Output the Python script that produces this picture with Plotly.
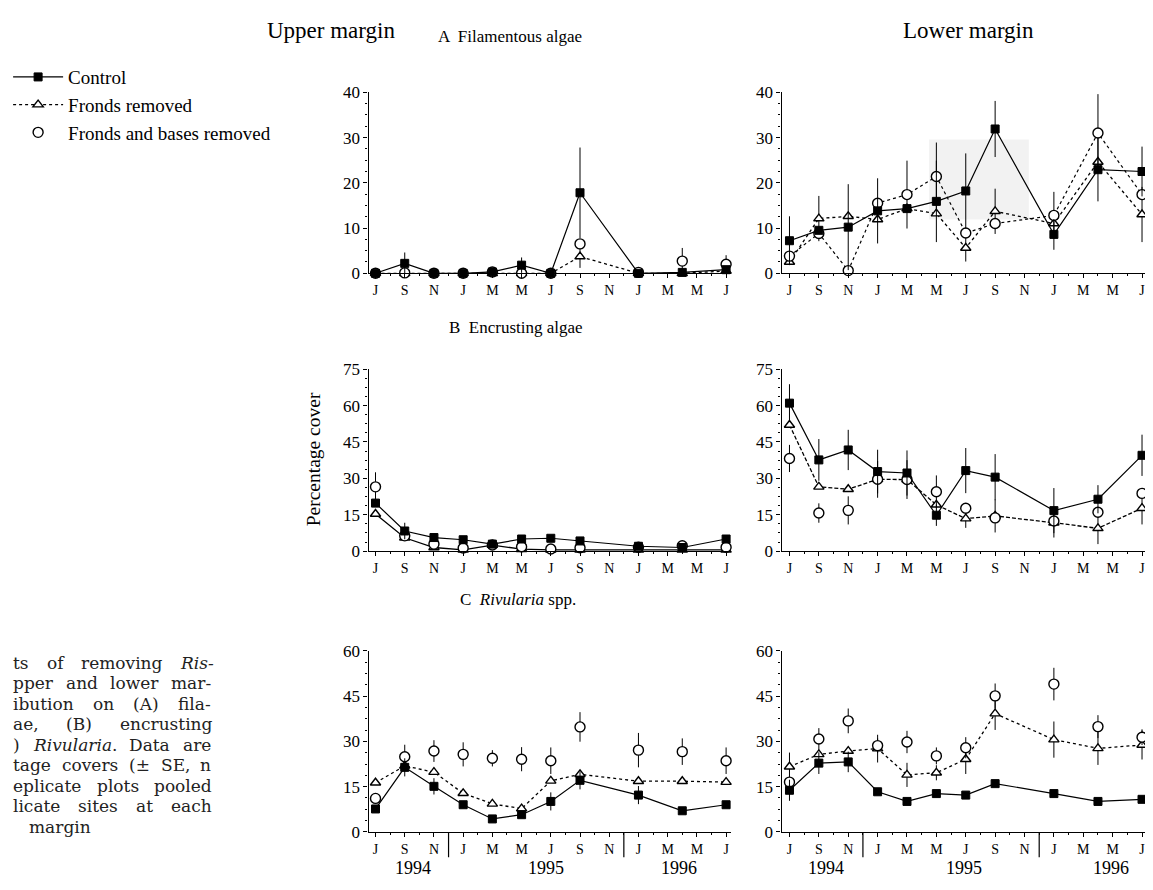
import re
import plotly.graph_objects as go

W, H = 1153, 890            # browser window
OX, OY = 8, 8               # default page margin of the html body
FW, FH = W - 2 * OX, H - 2 * OY   # figure size so that the page does not overflow

# ---------------- data ----------------
months = [0, 2, 4, 6, 8, 10, 12, 14, 18, 21, 24]   # months since July 1994
tick_vals = list(range(0, 25, 2))
tick_text = ["J", "S", "N", "J", "M", "M", "J", "S", "N", "J", "M", "M", "J"]
years = ["1994", "1995", "1996"]

# A  Filamentous algae - upper margin
a_up_ctrl = [0.0, 2.2, 0.0, 0.0, 0.3, 1.8, 0.0, 17.8, 0.0, 0.2, 0.8]
a_up_ctrl_se = [0, 2.4, 0, 0, 0, 1.7, 0, 10.0, 0, 0, 0.5]
a_up_fr = [0.0, 0.0, 0.0, 0.0, 0.0, 0.0, 0.0, 3.7, 0.0, 0.0, 0.5]
a_up_fr_se = [0, 0, 0, 0, 0, 0, 0, 2.5, 0, 0, 0]
a_up_fb = [0.0, 0.1, 0.0, 0.0, 0.3, 0.0, 0.0, 6.5, 0.2, 2.7, 2.0]
a_up_fb_se = [0, 0, 0, 0, 0, 0, 0, 0, 0, 2.9, 2.0]

# A  Filamentous algae - lower margin
a_lo_ctrl = [7.2, 9.5, 10.2, 13.8, 14.3, 15.9, 18.2, 31.9, 8.6, 22.9, 22.5]
a_lo_ctrl_se = [5.4, 0, 9.5, 7.2, 0, 9.0, 8.3, 6.2, 3.4, 7.0, 5.5]
a_lo_fr = [2.5, 12.1, 12.6, 11.9, 14.3, 13.2, 5.6, 13.7, 11.0, 24.6, 13.0]
a_lo_fr_se = [0, 5.0, 0, 0, 0, 0, 3.0, 5.0, 0, 0, 6.1]
a_lo_fb = [3.8, 8.8, 0.6, 15.5, 17.4, 21.4, 8.9, 11.0, 12.8, 31.0, 17.4]
a_lo_fb_se = [0, 0, 0, 0, 7.5, 7.5, 0, 0, 5.2, 8.6, 0]

# B  Encrusting algae - upper margin
b_up_ctrl = [19.8, 8.3, 5.6, 4.7, 2.9, 5.0, 5.3, 4.2, 2.0, 1.5, 5.0]
b_up_ctrl_se = [0, 3.4, 0, 0, 0, 0, 0, 0, 0, 0, 0]
b_up_fr = [15.3, 5.5, 1.5, 0.5, 2.5, 0.8, 0.5, 0.5, 0.5, 0.5, 0.5]
b_up_fr_se = [0, 0, 0, 0, 0, 0, 0, 0, 0, 0, 0]
b_up_fb = [26.5, 6.3, 2.9, 1.3, 2.5, 1.8, 0.9, 1.4, 1.6, 2.2, 1.6]
b_up_fb_se = [6.0, 0, 0, 0, 0, 0, 0, 0, 0, 0, 0]

# B  Encrusting algae - lower margin
b_lo_ctrl = [61.0, 37.6, 41.7, 32.8, 32.2, 14.8, 33.2, 30.5, 16.7, 21.4, 39.5]
b_lo_ctrl_se = [7.8, 8.6, 8.3, 9.0, 9.3, 4.4, 9.3, 9.5, 9.3, 5.8, 8.5]
b_lo_fr = [52.0, 26.5, 25.5, 29.6, 29.5, 19.1, 13.4, 14.5, 11.7, 9.4, 17.7]
b_lo_fr_se = [0, 0, 0, 7.6, 8.0, 0, 3.8, 6.8, 6.1, 6.5, 6.7]
b_lo_fb = [38.2, 15.7, 16.8, 29.6, 29.5, 24.5, 17.7, 13.7, 12.4, 16.0, 23.8]
b_lo_fb_se = [5.6, 4.0, 5.8, 0, 0, 6.7, 0, 0, 0, 0, 0]

# C  Rivularia spp. - upper margin
c_up_ctrl = [7.6, 21.4, 15.1, 9.0, 4.3, 5.7, 10.1, 17.1, 12.2, 7.0, 9.0]
c_up_ctrl_se = [0, 3.0, 2.7, 0, 0, 0, 3.0, 3.0, 3.0, 0, 0]
c_up_fr = [16.3, 21.9, 19.8, 12.8, 9.3, 7.7, 16.9, 19.1, 16.8, 16.8, 16.5]
c_up_fr_se = [0, 0, 0, 0, 0, 0, 0, 0, 0, 0, 0]
c_up_fb = [11.1, 24.9, 26.8, 25.7, 24.4, 24.1, 23.6, 34.8, 27.1, 26.6, 23.6]
c_up_fb_se = [0, 4.0, 3.6, 4.0, 2.7, 4.0, 4.4, 4.9, 5.7, 4.4, 4.4]

# C  Rivularia spp. - lower margin
c_lo_ctrl = [13.8, 22.8, 23.2, 13.3, 10.1, 12.7, 12.2, 16.0, 12.7, 10.1, 10.8]
c_lo_ctrl_se = [3.5, 3.6, 3.4, 0, 0, 0, 0, 0, 0, 0, 0]
c_lo_fr = [21.6, 25.7, 26.8, 27.6, 18.9, 19.6, 24.1, 39.2, 30.6, 27.7, 28.8]
c_lo_fr_se = [4.7, 0, 0, 4.6, 4.0, 2.5, 4.9, 5.4, 6.0, 5.5, 4.8]
c_lo_fb = [16.5, 30.8, 36.8, 28.6, 29.8, 25.2, 27.9, 45.1, 49.0, 34.9, 31.4]
c_lo_fb_se = [0, 3.6, 4.1, 2.4, 3.7, 2.8, 3.5, 4.1, 5.4, 3.8, 2.6]

series_names = ["Control", "Fronds removed", "Fronds and bases removed"]

caption_lines = [
    "ts of removing <i>Ris-</i>",
    "pper and lower mar-",
    "ibution on (A) fila-",
    "ae, (B) encrusting",
    ") <i>Rivularia</i>. Data are",
    "tage covers (± SE, n",
    "eplicate plots pooled",
    "licate sites at each",
]
caption_last = "margin"

# ---------------- geometry helpers (window pixels -> paper) ----------------
def px(x):
    return (x - OX) / FW


def py(y):
    return 1 - (y - OY) / FH


SERIF = "Liberation Serif"
XMAX = OX + FW
col_px = [(361, 727, 368, 722), (778, min(1148, XMAX), 786, 1142)]  # axis start, end, first tick, last tick
row_px = [(85, 270), (368, 554), (656, 841)]                        # top, bottom
yranges = [40, 75, 60]
ydticks = [10, 15, 15]

panels = [
    dict(ctrl=a_up_ctrl, cse=a_up_ctrl_se, fr=a_up_fr, fse=a_up_fr_se, fb=a_up_fb, bse=a_up_fb_se,
         fr_dash="dot", fb_line=False),
    dict(ctrl=a_lo_ctrl, cse=a_lo_ctrl_se, fr=a_lo_fr, fse=a_lo_fr_se, fb=a_lo_fb, bse=a_lo_fb_se,
         fr_dash="dot", fb_line=True),
    dict(ctrl=b_up_ctrl, cse=b_up_ctrl_se, fr=b_up_fr, fse=b_up_fr_se, fb=b_up_fb, bse=b_up_fb_se,
         fr_dash="solid", fb_line=False),
    dict(ctrl=b_lo_ctrl, cse=b_lo_ctrl_se, fr=b_lo_fr, fse=b_lo_fr_se, fb=b_lo_fb, bse=b_lo_fb_se,
         fr_dash="4px,2px", fb_line=False),
    dict(ctrl=c_up_ctrl, cse=c_up_ctrl_se, fr=c_up_fr, fse=c_up_fr_se, fb=c_up_fb, bse=c_up_fb_se,
         fr_dash="dot", fb_line=False),
    dict(ctrl=c_lo_ctrl, cse=c_lo_ctrl_se, fr=c_lo_fr, fse=c_lo_fr_se, fb=c_lo_fb, bse=c_lo_fb_se,
         fr_dash="dot", fb_line=False),
]

fig = go.Figure()
layout = {}


def err(se):
    return dict(type="data", array=se, visible=True, thickness=1, width=0, color="black")


for i, p in enumerate(panels):
    r, c = divmod(i, 2)
    sfx = "" if i == 0 else str(i + 1)
    xa, ya = "x" + sfx, "y" + sfx
    legend_show = (i == 4)
    fig.add_trace(go.Scatter(
        x=months, y=p["fr"], xaxis=xa, yaxis=ya, name=series_names[1],
        mode="lines+markers", cliponaxis=False, showlegend=legend_show, legendrank=2,
        line=dict(color="black", width=1.3, dash=p["fr_dash"]),
        marker=dict(symbol="triangle-up", size=9, color="white", line=dict(color="black", width=1.4)),
        error_y=err(p["fse"])))
    fig.add_trace(go.Scatter(
        x=months, y=p["fb"], xaxis=xa, yaxis=ya, name=series_names[2],
        mode="lines+markers" if p["fb_line"] else "markers", cliponaxis=False,
        showlegend=legend_show, legendrank=3,
        line=dict(color="black", width=1.2, dash="dot"),
        marker=dict(symbol="circle", size=10, color="white", line=dict(color="black", width=1.4)),
        error_y=err(p["bse"])))
    fig.add_trace(go.Scatter(
        x=months, y=p["ctrl"], xaxis=xa, yaxis=ya, name=series_names[0],
        mode="lines+markers", cliponaxis=False, showlegend=legend_show, legendrank=1,
        line=dict(color="black", width=1.2),
        marker=dict(symbol="square", size=8, color="black", line=dict(color="black", width=1)),
        error_y=err(p["cse"])))

    x0, x1, t0, t1 = col_px[c]
    sc = (t1 - t0) / 24.0
    top, bot = row_px[r]
    layout["xaxis" + sfx] = dict(
        domain=[px(x0), min(px(x1), 1.0)], anchor=ya, range=[-(t0 - x0) / sc, 24 + (x1 - t1) / sc],
        tickmode="array", tickvals=tick_vals, ticktext=tick_text, ticklabeloverflow="allow",
        showline=True, linecolor="black", linewidth=1.3, ticks="outside", ticklen=4,
        tickcolor="black", showgrid=False, zeroline=False,
        tickfont=dict(family=SERIF, size=14, color="black"),
        minor=dict(dtick=1, tick0=0, ticks="outside", ticklen=2, tickcolor="black"))
    layout["yaxis" + sfx] = dict(
        domain=[py(bot), py(top)], anchor=xa, range=[0, yranges[r]],
        dtick=ydticks[r], tick0=0, showline=True, linecolor="black", linewidth=1.3,
        ticks="outside", ticklen=4, tickcolor="black", showgrid=False, zeroline=False,
        tickfont=dict(family=SERIF, size=17, color="black"),
        minor=dict(dtick=ydticks[r] / 4, ticks="outside", ticklen=2, tickcolor="black"))

shapes = []
# faint scan shading in panel A lower margin
shapes.append(dict(type="rect", xref="x2", yref="y2", x0=9.5, x1=16.3, y0=11.9, y1=29.6,
                   fillcolor="rgba(0,0,0,0.05)", line=dict(width=0), layer="below"))
# year separators
for ax in ["x5", "x6"]:
    for m in [5, 17]:
        shapes.append(dict(type="line", xref=ax, yref="paper", x0=m, x1=m,
                           y0=py(842), y1=py(867), line=dict(color="black", width=1.2)))

ann = []


def txt(x, y, s, size, family=SERIF, xanchor="center", color="black", **kw):
    d = dict(x=px(x), y=py(y), xref="paper", yref="paper", text=s, showarrow=False,
             xanchor=xanchor, yanchor="middle",
             font=dict(family=family, size=size, color=color))
    d.update(kw)
    ann.append(d)


txt(323, 22, "Upper margin", 23)
txt(967, 22, "Lower margin", 23)
txt(504, 28, "A  Filamentous algae", 17)
txt(510, 325, "B  Encrusting algae", 17)
txt(512, 603, "C  <i>Rivularia</i> spp.", 17)
txt(305, 460, "Percentage cover", 19.5, textangle=-90)

# year labels
for ax, pos in [("x5", [2.6, 11.7, 20.8]), ("x6", [2.5, 11.9, 21.9])]:
    for yl, xp in zip(years, pos):
        ann.append(dict(x=xp, y=py(878), xref=ax, yref="paper", text=yl, showarrow=False,
                        xanchor="center", yanchor="middle",
                        font=dict(family=SERIF, size=18, color="black")))

# justified caption fragment (DejaVu Serif advance widths, em units)
CW = dict(a=.596, b=.64, c=.56, d=.64, e=.592, f=.37, g=.64, h=.644, i=.32, j=.32, k=.62,
          l=.32, m=.948, n=.644, o=.602, p=.64, q=.64, r=.478, s=.513, t=.402, u=.644, v=.565,
          w=.856, x=.564, y=.565, z=.527)
CW.update({"(": .39, ")": .39, ",": .318, ".": .318, "-": .338, "±": .838, "S": .648,
           "E": .715, "D": .802, "R": .706, "A": .722, "B": .735})
CAP_FONT = "DejaVu Serif"
cap_size = 17
cap_right = 200


def wwidth(w):
    return sum(CW.get(ch, .6) for ch in re.sub("<[^>]+>", "", w)) * cap_size


for k, line in enumerate(caption_lines):
    y = 668 + k * 21
    words = line.split(" ")
    widths = [wwidth(w) for w in words]
    gap = max((cap_right - sum(widths)) / max(len(words) - 1, 1), 0.318 * cap_size)
    xpos = cap_right - sum(widths) - gap * (len(words) - 1)
    for j, w in enumerate(words):
        txt(xpos, y, w, cap_size, family=CAP_FONT, xanchor="left", color="#222222")
        xpos += widths[j] + gap
txt(16, 668 + 8 * 21, caption_last, cap_size, family=CAP_FONT, xanchor="left", color="#222222")

fig.update_layout(
    width=FW, height=FH, margin=dict(l=0, r=0, t=0, b=0),
    paper_bgcolor="white", plot_bgcolor="white",
    shapes=shapes, annotations=ann,
    legend=dict(x=px(-3), y=py(50), xanchor="left", yanchor="top", itemwidth=50,
                bgcolor="rgba(0,0,0,0)", font=dict(family=SERIF, size=19, color="black"),
                traceorder="normal"),
    **layout)

fig.write_html("out.html")
